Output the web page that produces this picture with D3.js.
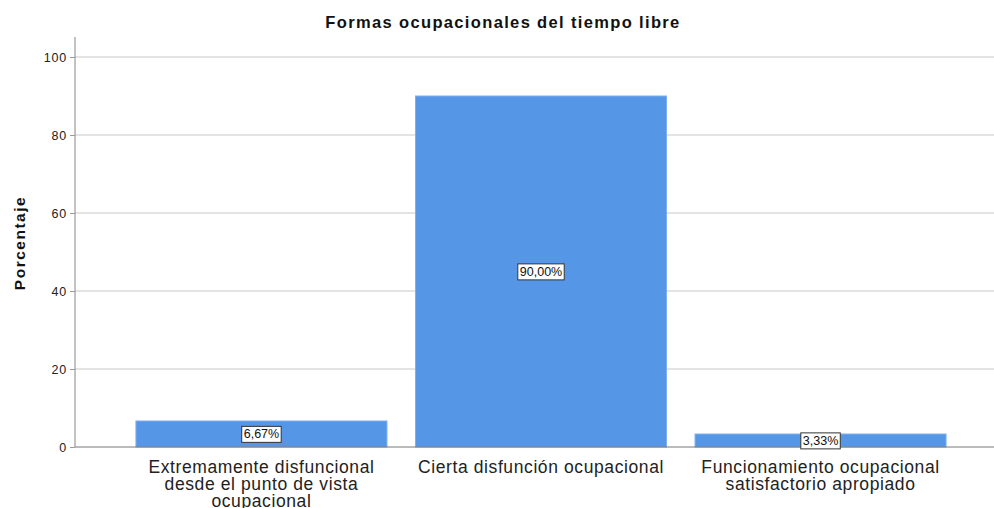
<!DOCTYPE html>
<html>
<head>
<meta charset="utf-8">
<script src="https://cdn.jsdelivr.net/npm/d3@7"></script>
<style>
  body { margin: 0; background: #fff; }
  svg { display: block; font-family: "Liberation Sans", Arial, sans-serif; }
</style>
</head>
<body>
<div id="chart"></div>
<script>
// data
const categories = [
  ["Extremamente disfuncional", "desde el punto de vista", "ocupacional"],
  ["Cierta disfunción ocupacional"],
  ["Funcionamiento ocupacional", "satisfactorio apropiado"]
];
const percentages = [6.67, 90.00, 3.33];
const yTicks = [0, 20, 40, 60, 80, 100];

const W = 994, H = 508;
const svg = d3.select("#chart").append("svg")
  .attr("width", W).attr("height", H);

const x0 = 75, yBase = 447;
const x = d3.scaleBand()
  .domain(d3.range(categories.length))
  .range([x0, 1007])
  .paddingInner(0.102)
  .paddingOuter(0.218);
const y = d3.scaleLinear().domain([0, 100]).range([yBase, 57]);

// gridlines
svg.append("g").selectAll("line")
  .data(yTicks.filter(d => d > 0))
  .join("line")
  .attr("x1", x0).attr("x2", W)
  .attr("y1", d => y(d)).attr("y2", d => y(d))
  .attr("stroke", "#c8c8c8").attr("stroke-width", 1);

// bars
svg.append("g").selectAll("rect")
  .data(percentages)
  .join("rect")
  .attr("x", (d, i) => x(i))
  .attr("width", x.bandwidth())
  .attr("y", d => y(d))
  .attr("height", d => yBase - y(d))
  .attr("fill", "#5596e6")
  .attr("stroke", "#7fb0ee")
  .attr("stroke-width", 1);

// y axis
const yAxis = svg.append("g")
  .attr("transform", `translate(${x0},0)`)
  .call(d3.axisLeft(y).tickValues(yTicks).tickSize(5).tickPadding(3));
yAxis.select(".domain").remove();
yAxis.selectAll(".tick line").attr("stroke", "#999");
yAxis.selectAll("text").attr("font-size", 12.5).attr("fill", "#222")
  .attr("letter-spacing", 0.8)
  .attr("font-family", "Liberation Sans, Arial, sans-serif");
svg.append("line")
  .attr("x1", x0).attr("x2", x0).attr("y1", 37).attr("y2", yBase)
  .attr("stroke", "#999").attr("stroke-width", 1.2);

// x baseline
svg.append("line")
  .attr("x1", x0).attr("x2", W).attr("y1", yBase).attr("y2", yBase)
  .attr("stroke", "#777").attr("stroke-width", 1);

// category labels
const cat = svg.append("g").selectAll("text")
  .data(categories)
  .join("text")
  .attr("text-anchor", "middle")
  .attr("font-size", 17.5)
  .attr("letter-spacing", 0.6)
  .attr("fill", "#222")
  .attr("x", (d, i) => x(i) + x.bandwidth() / 2)
  .attr("y", 473);
cat.selectAll("tspan")
  .data(d => d)
  .join("tspan")
  .attr("x", function () { return d3.select(this.parentNode).attr("x"); })
  .attr("dy", (d, i) => i === 0 ? 0 : 16.8)
  .text(d => d);

// value labels
const fmt = v => v.toFixed(2).replace(".", ",") + "%";
const lab = svg.append("g").selectAll("g")
  .data(percentages)
  .join("g")
  .attr("transform", (d, i) => `translate(${x(i) + x.bandwidth() / 2},${(y(d) + yBase) / 2})`);
lab.append("text")
  .attr("text-anchor", "middle")
  .attr("dy", "0.35em")
  .attr("font-size", 12.5)
  .attr("fill", "#111")
  .text(fmt);
lab.each(function () {
  const g = d3.select(this);
  const bb = g.select("text").node().getBBox();
  g.insert("rect", "text")
    .attr("x", bb.x - 2).attr("y", bb.y - 1)
    .attr("width", bb.width + 4).attr("height", bb.height + 2)
    .attr("fill", "#fff").attr("stroke", "#333").attr("stroke-width", 1);
});

// titles
svg.append("text")
  .attr("x", 503).attr("y", 28)
  .attr("text-anchor", "middle")
  .attr("font-size", 16.5).attr("font-weight", "bold").attr("fill", "#111")
  .attr("letter-spacing", 1.35)
  .text("Formas ocupacionales del tiempo libre");
svg.append("text")
  .attr("transform", "translate(25,243) rotate(-90)")
  .attr("text-anchor", "middle")
  .attr("font-size", 15.5).attr("font-weight", "bold").attr("fill", "#111")
  .attr("letter-spacing", 1.5)
  .text("Porcentaje");
</script>
</body>
</html>
